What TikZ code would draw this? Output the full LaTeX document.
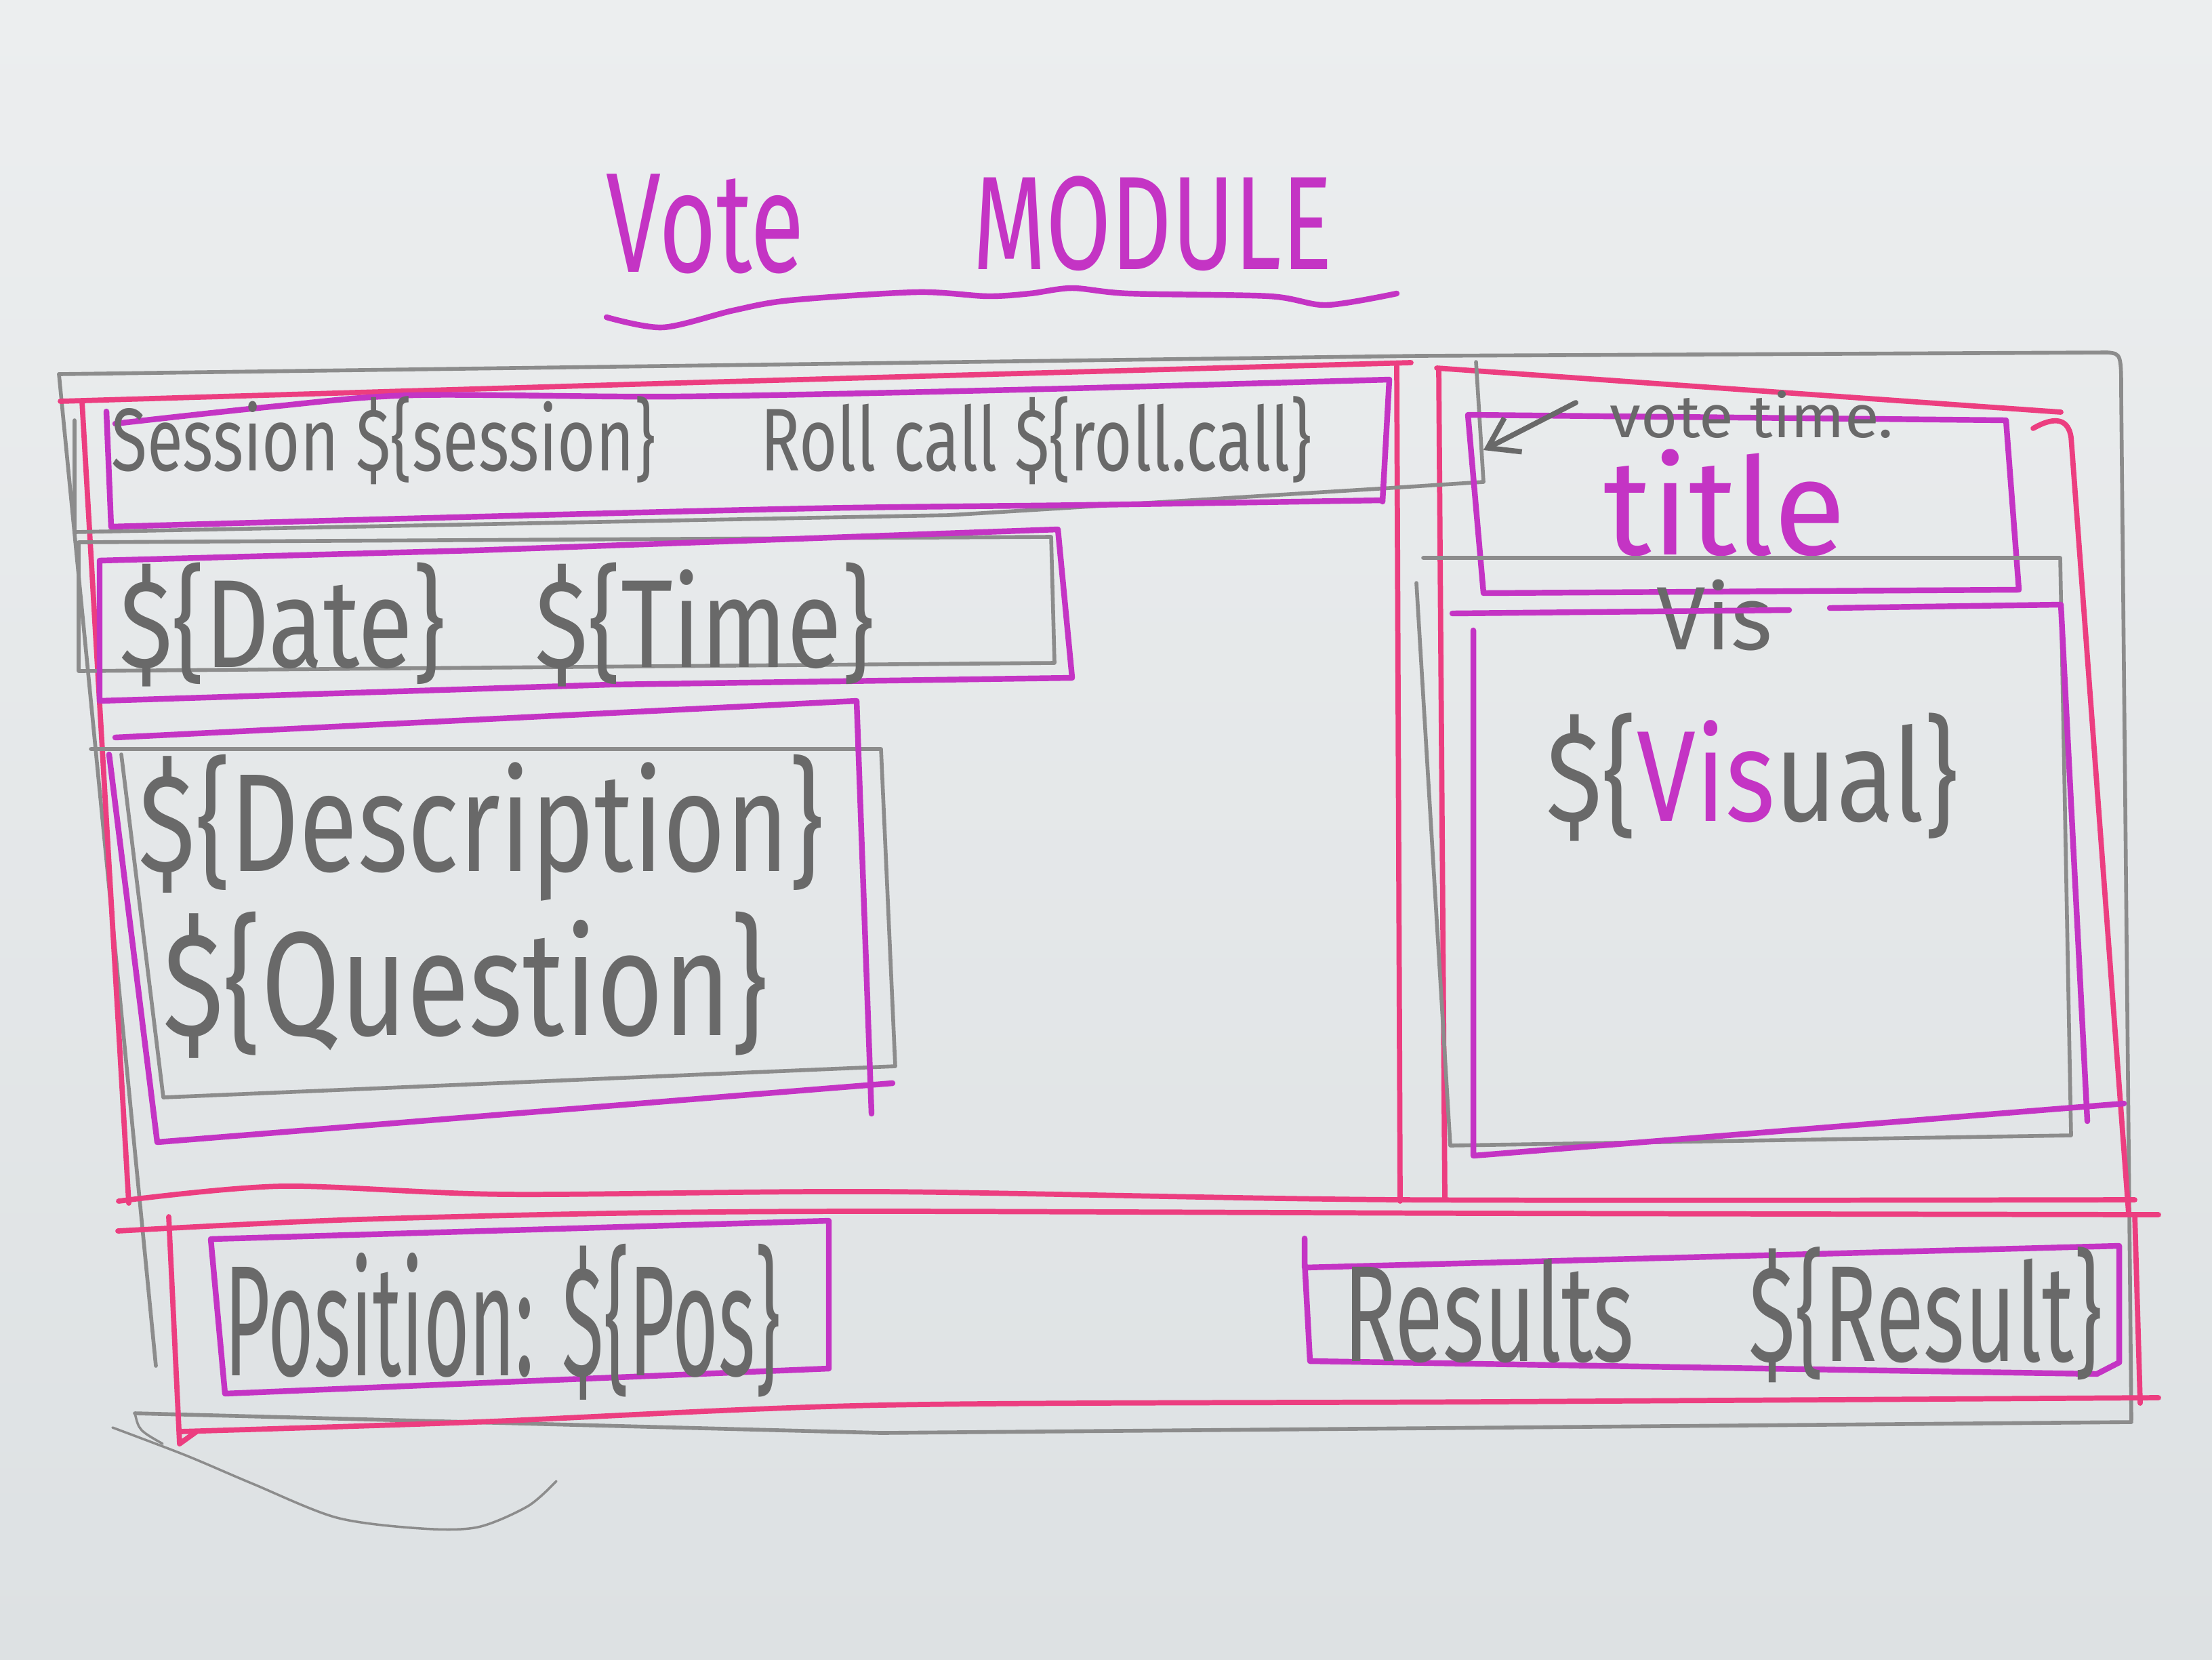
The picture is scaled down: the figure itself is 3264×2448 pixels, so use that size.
\documentclass[tikz,border=0pt]{standalone}
\usepackage{fontspec}
\setmainfont{Fira Sans}
\usepackage{graphicx}
\usetikzlibrary{arrows.meta}
\definecolor{mag}{RGB}{196,52,196}
\definecolor{pnk}{RGB}{236,62,128}
\definecolor{pencilgray}{RGB}{140,140,140}
\definecolor{inkgray}{RGB}{105,105,105}
\definecolor{papertop}{RGB}{236,238,239}
\definecolor{paperbot}{RGB}{221,225,227}
\newcommand{\fitbox}[3]{\resizebox*{#1}{#2}{#3}}
\begin{document}
\begin{tikzpicture}[x=0.01cm,y=-0.01cm,line join=round,line cap=round,
  magline/.style={draw=mag,line width=2.4pt},
  pinkline/.style={draw=pnk,line width=2.2pt},
  pencil/.style={draw=pencilgray,line width=1.6pt},
  txt/.style={inner sep=0pt,text=inkgray},
  mtxt/.style={inner sep=0pt,text=mag}]
\shade[top color=papertop,bottom color=paperbot] (0,0) rectangle (3264,2448);
\useasboundingbox (0,0) rectangle (3264,2448);

% ---------- title ----------
\node[mtxt] (vote) at (1041,330) {\fitbox{2.92cm}{1.47cm}{Vote}};
\node[mtxt] (module) at (1701,330) {\fitbox{5.3cm}{1.40cm}{MODULE}};
\draw[magline] plot[smooth] coordinates {(895,468) (978,483) (1082,458) (1166,443) (1353,431) (1457,437) (1520,433) (1582,425) (1665,433) (1873,437) (1957,450) (2061,433)};

% ---------- pencil outer frame ----------
\draw[pencil] (87,552) -- (2092,525) -- (3110,520) .. controls (3130,522) .. (3130,585) -- (3145,2095);
\draw[pencil] (87,552) -- (230,2015);
\draw[pencil] (199,2085) -- (1300,2114) -- (3145,2098);
\draw[pencil,line width=1pt] plot[smooth] coordinates {(166,2106) (274,2147) (373,2189) (497,2239) (622,2255) (705,2253) (779,2222) (821,2185)};
\draw[pencil,line width=1pt] (199,2085) .. controls (205,2110) .. (240,2130);

% ---------- pink panels ----------
% left panel
\draw[pinkline] (89,592) -- (1000,565) -- (2082,535);
\draw[pinkline] (121,592) -- (190,1775);
\draw[pinkline] (2061,540) -- (2066,1772);
\draw[pinkline] plot[smooth] coordinates {(175,1772) (415,1750) (746,1762) (1300,1758) (2066,1770) (3150,1770)};
% right panel
\draw[pinkline] (2120,543) -- (3041,608);
\draw[pinkline] (3000,632) .. controls (3035,612) and (3052,620) .. (3056,645) -- (3141,1791);
\draw[pinkline] (2123,545) -- (2132,1768);
% bottom band
\draw[pinkline] plot[smooth] coordinates {(174,1816) (500,1800) (900,1790) (1300,1787) (2200,1790) (3185,1792)};
\draw[pinkline] (249,1795) -- (265,2130) -- (290,2112);
\draw[pinkline] (3150,1792) -- (3158,2070);
\draw[pinkline] plot[smooth] coordinates {(265,2112) (700,2098) (1300,2073) (2200,2068) (3185,2062)};

% ---------- session bar ----------
\draw[pencil] (110,620) -- (110,785) -- (1400,760) -- (2050,720) -- (2189,711) -- (2178,534);
\draw[magline] (157,607) -- (164,777);
\draw[magline] plot[smooth] coordinates {(170,625) (400,600) (610,583) (1000,585) (1500,575) (2050,560)};
\draw[magline] (2050,560) -- (2040,740);
\draw[magline] plot[smooth] coordinates {(164,777) (600,765) (1200,750) (1600,745) (2040,738)};
\node[txt] (session) at (1050,650) {\fitbox{17.7cm}{1.3cm}{Session \$\{session\}\hspace{1.6em}Roll call \$\{roll.call\}}};

% ---------- date / time ----------
\draw[pencil] (116,800) -- (1551,792) -- (1556,978) -- (116,990) -- cycle;
\draw[magline] (147,827) -- (700,812) -- (1561,781) -- (1582,1000) -- (900,1010) -- (147,1034) -- cycle;
\node[txt] (datetime) at (733,922) {\fitbox{11.13cm}{1.83cm}{\$\{Date\}\hspace{0.9em}\$\{Time\}}};

% ---------- description / question ----------
\draw[pencil] (134,1105) -- (1300,1105) -- (1321,1573) -- (241,1619) -- (179,1113);
\draw[magline] (170,1088) -- (1264,1034) -- (1286,1643);
\draw[magline] (161,1113) -- (232,1685) -- (1317,1598);
\node[txt] (desc) at (710,1221) {\fitbox{10.09cm}{2.16cm}{\$\{Description\}}};
\node[txt] (question) at (687,1453) {\fitbox{8.92cm}{2.16cm}{\$\{Question\}}};

% ---------- title box ----------
\draw[magline] (2166,612) -- (2960,620) -- (2979,870) -- (2189,875) -- cycle;
\node[mtxt] (titletext) at (2545,742) {\fitbox{3.56cm}{1.58cm}{title}};
\node[txt] (votetime) at (2585,612) {\fitbox{4.18cm}{0.70cm}{vote time.}};
\coordinate (tarrow) at (2189,664);
\draw[draw=inkgray,line width=2.2pt,-{Straight Barb[length=12pt,width=16pt]}] (votetime.west) ++(-50,-18) -- (tarrow);

% ---------- vis box ----------
\draw[pencil] (2100,823) -- (3040,823) -- (3056,1675) -- (2140,1690) -- (2090,860);
\node[txt] (vislabel) at (2530,908) {\fitbox{1.7cm}{1.05cm}{Vis}};
\draw[magline] (2143,905) -- (2640,900);
\draw[magline] (2700,897) -- (3041,892) -- (3080,1654);
\draw[magline] (2174,930) -- (2174,1705) -- (3134,1628);
\node[txt] (visual) at (2586,1146) {\fitbox{6.08cm}{1.89cm}{\$\{\textcolor{mag}{Vis}ual\}}};

% ---------- position ----------
\draw[magline] (311,1828) -- (1223,1801) -- (1223,2019) -- (332,2056) -- cycle;
\node[txt] (position) at (742,1950) {\fitbox{8.2cm}{2.3cm}{Position: \$\{Pos\}}};

% ---------- results ----------
\draw[magline] (1925,1827) -- (1925,1870) -- (3127,1838) -- (3127,2010) -- (3094,2027) -- (1933,2008) -- (1925,1860);
\node[txt] (results) at (2542,1940) {\fitbox{11.19cm}{2.0cm}{Results\hspace{1.3em}\$\{Result\}}};
\end{tikzpicture}
\end{document}
